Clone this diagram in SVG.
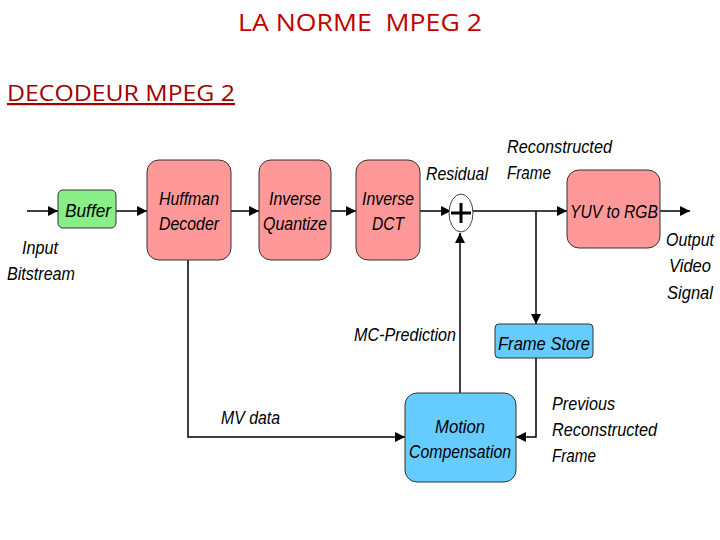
<svg xmlns="http://www.w3.org/2000/svg" width="720" height="540" viewBox="0 0 720 540">
<defs>
<marker id="ah" viewBox="0 0 10 10" refX="10" refY="5" markerWidth="10" markerHeight="10" markerUnits="userSpaceOnUse" orient="auto"><path d="M0,0 L10,5 L0,10 z" fill="#000"/></marker>
</defs>
<style>
.t{font-family:"Liberation Sans",Arial,sans-serif;font-style:italic;font-size:18px;fill:#000}
.red{fill:#f99;stroke:#333;stroke-width:1}
.grn{fill:#8e8;stroke:#333;stroke-width:1}
.blu{fill:#6cf;stroke:#333;stroke-width:1}
.c{stroke:#000;stroke-width:1.5;fill:none}
</style>
<rect width="720" height="540" fill="#fff"/>
<text x="360" y="31" text-anchor="middle" font-family="Open Sans,Liberation Sans,sans-serif" font-size="24" fill="#c00000" textLength="244" lengthAdjust="spacingAndGlyphs" xml:space="preserve">LA NORME  MPEG 2</text>
<text x="7" y="101" font-family="Open Sans,Liberation Sans,sans-serif" font-size="22" fill="#a00000" text-decoration="underline" textLength="228" lengthAdjust="spacingAndGlyphs">DECODEUR MPEG 2</text>
<g id="connectors">
<path class="c" d="M27,211 H58" marker-end="url(#ah)"/>
<path class="c" d="M116,211 H147" marker-end="url(#ah)"/>
<path class="c" d="M231,211 H259" marker-end="url(#ah)"/>
<path class="c" d="M331,211 H356" marker-end="url(#ah)"/>
<path class="c" d="M420,211 H451" marker-end="url(#ah)"/>
<path class="c" d="M472,211 H567" marker-end="url(#ah)"/>
<path class="c" d="M660,211 H690" marker-end="url(#ah)"/>
<path class="c" d="M536,211 V324" marker-end="url(#ah)"/>
<path class="c" d="M536,358 V437 H516" marker-end="url(#ah)"/>
<path class="c" d="M188,260 V437 H405" marker-end="url(#ah)"/>
<path class="c" d="M460,393 V233" marker-end="url(#ah)"/>
</g>
<g id="adder"><ellipse cx="461" cy="213" rx="12" ry="19" fill="#fff" stroke="#444" stroke-width="1"/><path d="M451,213 H471 M461,203 V223" stroke="#000" stroke-width="3"/></g>
<g id="buffer"><rect class="grn" x="58" y="190" width="58" height="38" rx="5"/><text class="t" x="88" y="217" text-anchor="middle" textLength="46" lengthAdjust="spacingAndGlyphs">Buffer</text></g>
<g id="huffman"><rect class="red" x="147" y="160" width="84" height="100" rx="12"/><text class="t" x="189" y="205" text-anchor="middle" textLength="60" lengthAdjust="spacingAndGlyphs">Huffman</text><text class="t" x="189" y="230" text-anchor="middle" textLength="60" lengthAdjust="spacingAndGlyphs">Decoder</text></g>
<g id="iquant"><rect class="red" x="259" y="160" width="72" height="100" rx="12"/><text class="t" x="295" y="205" text-anchor="middle" textLength="52" lengthAdjust="spacingAndGlyphs">Inverse</text><text class="t" x="295" y="230" text-anchor="middle" textLength="64" lengthAdjust="spacingAndGlyphs">Quantize</text></g>
<g id="idct"><rect class="red" x="356" y="160" width="64" height="100" rx="12"/><text class="t" x="388" y="205" text-anchor="middle" textLength="52" lengthAdjust="spacingAndGlyphs">Inverse</text><text class="t" x="388" y="230" text-anchor="middle" textLength="32" lengthAdjust="spacingAndGlyphs">DCT</text></g>
<g id="yuv"><rect class="red" x="567" y="170" width="93" height="78" rx="12"/><text class="t" x="614" y="218" text-anchor="middle" textLength="88" lengthAdjust="spacingAndGlyphs">YUV to RGB</text></g>
<g id="framestore"><rect class="blu" x="495" y="324" width="98" height="34" rx="4"/><text class="t" x="544" y="350" text-anchor="middle" textLength="92" lengthAdjust="spacingAndGlyphs">Frame Store</text></g>
<g id="motion"><rect class="blu" x="405" y="393" width="111" height="89" rx="12"/><text class="t" x="460" y="433" text-anchor="middle" textLength="50" lengthAdjust="spacingAndGlyphs">Motion</text><text class="t" x="460" y="458" text-anchor="middle" textLength="102" lengthAdjust="spacingAndGlyphs">Compensation</text></g>
<g id="labels">
<text class="t" x="40" y="254" text-anchor="middle" textLength="36" lengthAdjust="spacingAndGlyphs">Input</text>
<text class="t" x="41" y="280" text-anchor="middle" textLength="68" lengthAdjust="spacingAndGlyphs">Bitstream</text>
<text class="t" x="426" y="180" textLength="62" lengthAdjust="spacingAndGlyphs">Residual</text>
<text class="t" x="507" y="153" textLength="105" lengthAdjust="spacingAndGlyphs">Reconstructed</text>
<text class="t" x="507" y="179" textLength="44" lengthAdjust="spacingAndGlyphs">Frame</text>
<text class="t" x="690" y="246" text-anchor="middle" textLength="48" lengthAdjust="spacingAndGlyphs">Output</text>
<text class="t" x="690" y="272" text-anchor="middle" textLength="42" lengthAdjust="spacingAndGlyphs">Video</text>
<text class="t" x="690" y="299" text-anchor="middle" textLength="46" lengthAdjust="spacingAndGlyphs">Signal</text>
<text class="t" x="354" y="341" textLength="102" lengthAdjust="spacingAndGlyphs">MC-Prediction</text>
<text class="t" x="221" y="424" textLength="59" lengthAdjust="spacingAndGlyphs">MV data</text>
<text class="t" x="552" y="410" textLength="63" lengthAdjust="spacingAndGlyphs">Previous</text>
<text class="t" x="552" y="436" textLength="105" lengthAdjust="spacingAndGlyphs">Reconstructed</text>
<text class="t" x="552" y="462" textLength="44" lengthAdjust="spacingAndGlyphs">Frame</text>
</g>
</svg>
